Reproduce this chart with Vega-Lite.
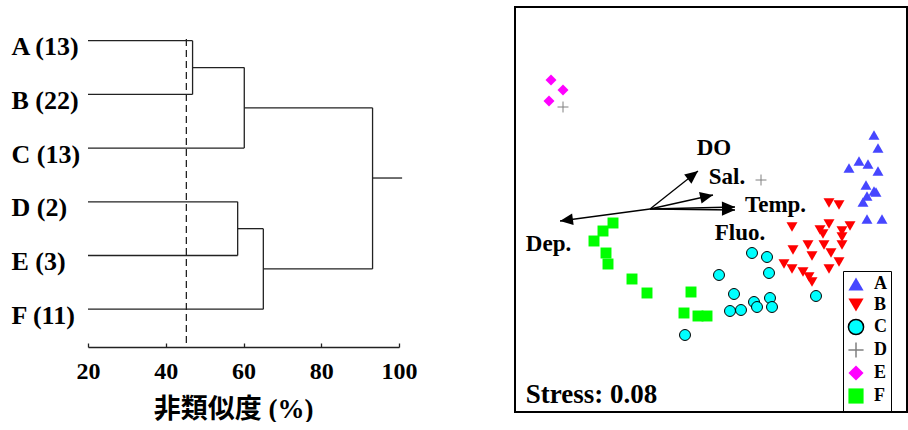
{
  "$schema": "https://vega.github.io/schema/vega-lite/v6.json",
  "background": "white",
  "padding": {"left": 11, "top": 6, "right": 0, "bottom": 0},
  "bounds": "flush",
  "spacing": 116,
  "config": {"view": {"stroke": null}, "font": "Liberation Serif"},
  "datasets": {
    "arrows": [
      {"var": "DO", "x0": -0.61, "y0": 0.01, "x": -0.13, "y": 0.39},
      {"var": "Sal.", "x0": -0.61, "y0": 0.01, "x": 0.02, "y": 0.15},
      {"var": "Temp.", "x0": -0.61, "y0": 0.01, "x": 0.24, "y": 0.03},
      {"var": "Fluo.", "x0": -0.61, "y0": 0.01, "x": 0.24, "y": 0.0},
      {"var": "Dep.", "x0": -0.61, "y0": 0.01, "x": -1.51, "y": -0.11}
    ],
    "sites": [
      {"group": "A", "x": 1.63, "y": 0.75}, {"group": "A", "x": 1.67, "y": 0.62}, {"group": "A", "x": 1.48, "y": 0.49},
      {"group": "A", "x": 1.57, "y": 0.46}, {"group": "A", "x": 1.38, "y": 0.42}, {"group": "A", "x": 1.67, "y": 0.39},
      {"group": "A", "x": 1.55, "y": 0.25}, {"group": "A", "x": 1.63, "y": 0.19}, {"group": "A", "x": 1.65, "y": 0.18},
      {"group": "A", "x": 1.56, "y": 0.14}, {"group": "A", "x": 1.52, "y": 0.08}, {"group": "A", "x": 1.56, "y": -0.09},
      {"group": "A", "x": 1.71, "y": -0.09},
      {"group": "B", "x": 1.18, "y": 0.07}, {"group": "B", "x": 1.28, "y": 0.05}, {"group": "B", "x": 0.81, "y": -0.17},
      {"group": "B", "x": 1.18, "y": -0.14}, {"group": "B", "x": 1.09, "y": -0.2}, {"group": "B", "x": 1.12, "y": -0.24},
      {"group": "B", "x": 1.31, "y": -0.21}, {"group": "B", "x": 1.39, "y": -0.16}, {"group": "B", "x": 1.31, "y": -0.27},
      {"group": "B", "x": 0.82, "y": -0.4}, {"group": "B", "x": 0.97, "y": -0.35}, {"group": "B", "x": 1.13, "y": -0.35},
      {"group": "B", "x": 1.31, "y": -0.35}, {"group": "B", "x": 1.01, "y": -0.46}, {"group": "B", "x": 1.2, "y": -0.43},
      {"group": "B", "x": 1.28, "y": -0.52}, {"group": "B", "x": 0.73, "y": -0.54}, {"group": "B", "x": 0.81, "y": -0.59},
      {"group": "B", "x": 0.92, "y": -0.62}, {"group": "B", "x": 0.98, "y": -0.67}, {"group": "B", "x": 1.01, "y": -0.72},
      {"group": "B", "x": 1.18, "y": -0.59},
      {"group": "C", "x": 0.41, "y": -0.43}, {"group": "C", "x": 0.56, "y": -0.47}, {"group": "C", "x": 0.58, "y": -0.63},
      {"group": "C", "x": 0.08, "y": -0.65}, {"group": "C", "x": 0.23, "y": -0.84}, {"group": "C", "x": 0.43, "y": -0.92},
      {"group": "C", "x": 0.46, "y": -0.97}, {"group": "C", "x": 0.59, "y": -0.88}, {"group": "C", "x": 0.61, "y": -0.97},
      {"group": "C", "x": 0.19, "y": -1.01}, {"group": "C", "x": 0.3, "y": -1.0}, {"group": "C", "x": 1.05, "y": -0.86},
      {"group": "C", "x": -0.26, "y": -1.25},
      {"group": "D", "x": -1.48, "y": 1.03}, {"group": "D", "x": 0.5, "y": 0.3},
      {"group": "E", "x": -1.6, "y": 1.3}, {"group": "E", "x": -1.48, "y": 1.2}, {"group": "E", "x": -1.62, "y": 1.09},
      {"group": "F", "x": -0.98, "y": -0.13}, {"group": "F", "x": -1.08, "y": -0.21}, {"group": "F", "x": -1.17, "y": -0.31},
      {"group": "F", "x": -1.05, "y": -0.43}, {"group": "F", "x": -1.03, "y": -0.54}, {"group": "F", "x": -0.79, "y": -0.69},
      {"group": "F", "x": -0.64, "y": -0.83}, {"group": "F", "x": -0.2, "y": -0.82}, {"group": "F", "x": -0.27, "y": -1.03},
      {"group": "F", "x": -0.13, "y": -1.06}, {"group": "F", "x": -0.04, "y": -1.06}
    ]
  },
  "hconcat": [
    {
      "width": 311,
      "height": 340,
      "view": {"stroke": null},
      "layer": [
        {
          "data": {"values": [
            {"x1": 20, "x2": 46.9, "y1": 0, "y2": 0},
            {"x1": 20, "x2": 46.9, "y1": 1, "y2": 1},
            {"x1": 46.9, "x2": 46.9, "y1": 0, "y2": 1},
            {"x1": 46.9, "x2": 60.2, "y1": 0.5, "y2": 0.5},
            {"x1": 20, "x2": 60.2, "y1": 2, "y2": 2},
            {"x1": 60.2, "x2": 60.2, "y1": 0.5, "y2": 2},
            {"x1": 60.2, "x2": 93.2, "y1": 1.25, "y2": 1.25},
            {"x1": 20, "x2": 58.5, "y1": 3, "y2": 3},
            {"x1": 20, "x2": 58.5, "y1": 4, "y2": 4},
            {"x1": 58.5, "x2": 58.5, "y1": 3, "y2": 4},
            {"x1": 58.5, "x2": 65.1, "y1": 3.5, "y2": 3.5},
            {"x1": 20, "x2": 65.1, "y1": 5, "y2": 5},
            {"x1": 65.1, "x2": 65.1, "y1": 3.5, "y2": 5},
            {"x1": 65.1, "x2": 93.2, "y1": 4.25, "y2": 4.25},
            {"x1": 93.2, "x2": 93.2, "y1": 1.25, "y2": 4.25},
            {"x1": 93.2, "x2": 100.8, "y1": 2.557, "y2": 2.557}
          ]},
          "mark": {"type": "rule", "color": "#222222", "strokeWidth": 1.3},
          "encoding": {
            "x": {
              "field": "x1", "type": "quantitative",
              "scale": {"domain": [20, 100], "nice": false, "zero": false},
              "axis": {
                "values": [20, 40, 60, 80, 100],
                "tickSize": -4, "tickColor": "#222222", "tickWidth": 1.3,
                "domainColor": "#222222", "domainWidth": 1.3,
                "grid": false, "labelFlush": false,
                "labelFont": "Liberation Serif", "labelFontWeight": "bold", "labelFontSize": 24, "labelColor": "black",
                "labelPadding": 16,
                "title": "非類似度 (%)",
                "titleFont": "Liberation Serif, Noto Sans CJK JP", "titleFontSize": 27, "titleFontWeight": "bold",
                "titleColor": "black", "titlePadding": 13, "titleX": 145
              }
            },
            "x2": {"field": "x2"},
            "y": {
              "field": "y1", "type": "quantitative",
              "scale": {"domain": [-0.628, 5.704], "reverse": true, "nice": false, "zero": false},
              "axis": {
                "values": [0, 1, 2, 3, 4, 5],
                "labelExpr": "['A (13)','B (22)','C (13)','D (2)','E (3)','F (11)'][datum.value]",
                "domain": false, "ticks": false, "grid": false,
                "labelAlign": "left", "labelBaseline": "middle", "labelPadding": 77, "labelOffset": 6,
                "labelFont": "Liberation Serif", "labelFontWeight": "bold", "labelFontSize": 26, "labelColor": "black",
                "title": null
              }
            },
            "y2": {"field": "y2"}
          }
        },
        {
          "data": {"values": [{"cut": 45.3, "top": -0.03, "bottom": 5.704}]},
          "mark": {"type": "rule", "color": "#222222", "strokeWidth": 1.3, "strokeDash": [7, 4]},
          "encoding": {
            "x": {"field": "cut", "type": "quantitative"},
            "y": {"field": "top", "type": "quantitative"},
            "y2": {"field": "bottom"}
          }
        }
      ]
    },
    {
      "width": 392,
      "height": 405,
      "view": {"stroke": "black", "strokeWidth": 2},
      "layer": [
        {
          "data": {"name": "arrows"},
          "mark": {"type": "rule", "color": "black", "strokeWidth": 1.3},
          "encoding": {
            "x": {"field": "x0", "type": "quantitative", "scale": {"domain": [-1.96, 1.96], "nice": false, "zero": false}, "axis": null},
            "y": {"field": "y0", "type": "quantitative", "scale": {"domain": [-2.02, 2.03], "nice": false, "zero": false}, "axis": null},
            "x2": {"field": "x"},
            "y2": {"field": "y"}
          }
        },
        {
          "data": {"name": "arrows"},
          "transform": [{"calculate": "atan2(datum.y0 - datum.y, datum.x - datum.x0) * 180 / PI", "as": "angle"}],
          "mark": {"type": "point", "shape": "M0,0L-1,-0.45L-1,0.45Z", "filled": true, "color": "black", "size": 676, "opacity": 1, "strokeWidth": 0},
          "encoding": {
            "x": {"field": "x", "type": "quantitative"},
            "y": {"field": "y", "type": "quantitative"},
            "angle": {"field": "angle", "type": "quantitative", "scale": null}
          }
        },
        {
          "data": {"values": [
            {"text": "DO", "x": 0.03, "y": 0.62},
            {"text": "Sal.", "x": 0.16, "y": 0.33},
            {"text": "Temp.", "x": 0.645, "y": 0.05},
            {"text": "Fluo.", "x": 0.29, "y": -0.23},
            {"text": "Dep.", "x": -1.625, "y": -0.34}
          ]},
          "mark": {"type": "text", "font": "Liberation Serif", "fontWeight": "bold", "fontSize": 23, "color": "black", "align": "center", "baseline": "middle"},
          "encoding": {
            "x": {"field": "x", "type": "quantitative"},
            "y": {"field": "y", "type": "quantitative"},
            "text": {"field": "text"}
          }
        },
        {
          "data": {"name": "sites"},
          "mark": {"type": "point", "size": 120, "strokeWidth": 1, "opacity": 1},
          "encoding": {
            "x": {"field": "x", "type": "quantitative"},
            "y": {"field": "y", "type": "quantitative"},
            "fill": {
              "field": "group", "type": "nominal",
              "scale": {"domain": ["A", "B", "C", "D", "E", "F"], "range": ["#4646ff", "#ff0000", "#00ffff", "transparent", "#ff00ff", "#00ff00"]},
              "legend": {
                "title": null, "orient": "none", "legendX": 755, "legendY": 264,
                "strokeColor": "black", "padding": 4, "symbolSize": 230, "symbolStrokeWidth": 1.5,
                "labelFont": "Liberation Serif", "labelFontWeight": "bold", "labelFontSize": 18, "labelColor": "black",
                "labelOffset": 9, "rowPadding": 1,
                "labelExpr": "datum.label + '    '",
                "encode": {
                  "legend": {"update": {"stroke": {"value": "black"}, "strokeWidth": {"value": 2}}},
                  "symbols": {"update": {"size": {"value": 230}}}
                }
              }
            },
            "stroke": {
              "field": "group", "type": "nominal",
              "scale": {"domain": ["A", "B", "C", "D", "E", "F"], "range": ["transparent", "transparent", "#000000", "#808080", "transparent", "transparent"]}
            },
            "shape": {
              "field": "group", "type": "nominal",
              "scale": {"domain": ["A", "B", "C", "D", "E", "F"], "range": ["triangle-up", "triangle-down", "circle", "M-1,0H1M0,-1V1", "diamond", "square"]}
            }
          }
        },
        {
          "data": {"values": [{"label": "Stress: 0.08", "x": -1.853, "y": -1.93}]},
          "mark": {"type": "text", "font": "Liberation Serif", "fontWeight": "bold", "fontSize": 27, "color": "black", "align": "left", "baseline": "alphabetic"},
          "encoding": {
            "x": {"field": "x", "type": "quantitative"},
            "y": {"field": "y", "type": "quantitative"},
            "text": {"field": "label"}
          }
        }
      ]
    }
  ]
}
